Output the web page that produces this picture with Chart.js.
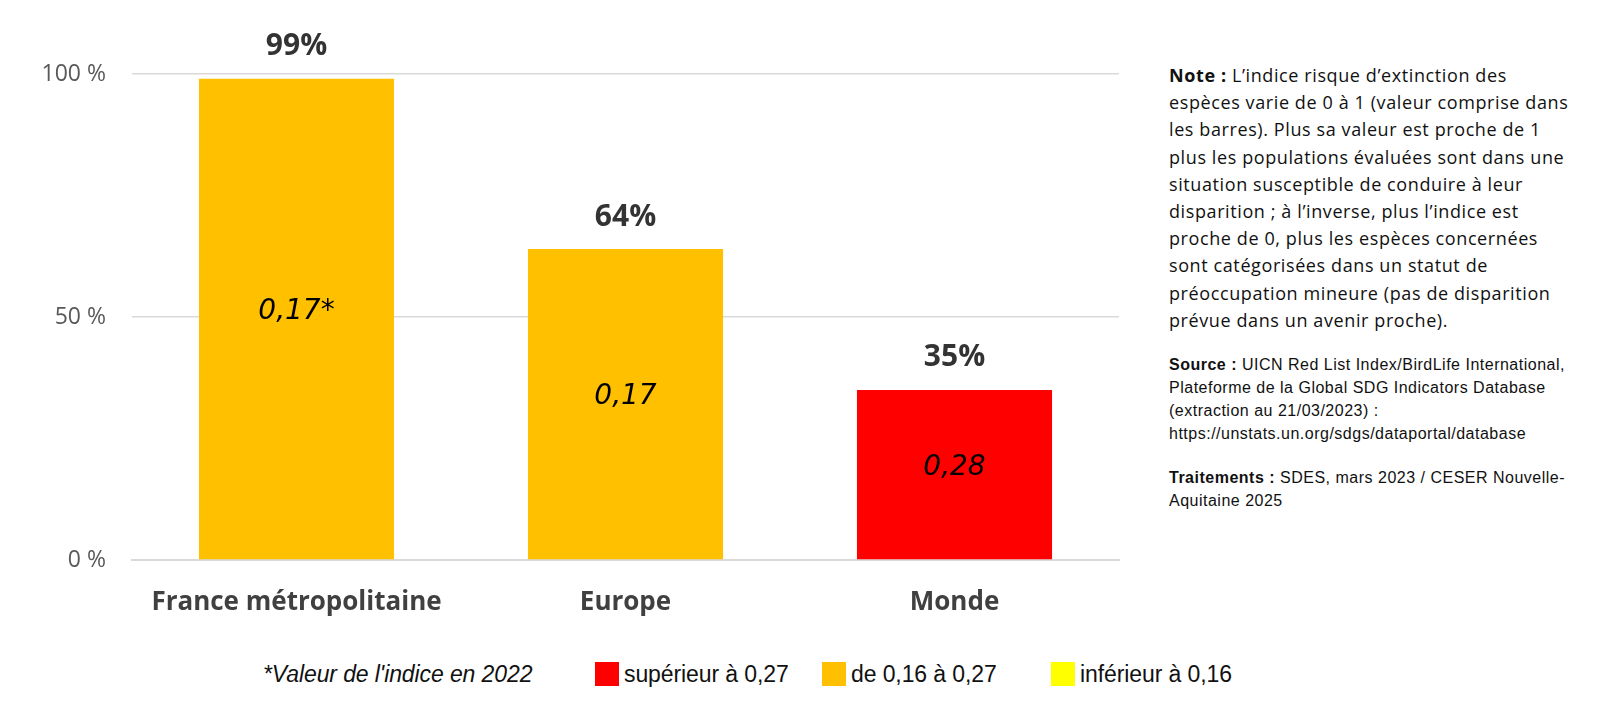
<!DOCTYPE html>
<html lang="fr">
<head>
<meta charset="utf-8">
<script src="https://cdn.jsdelivr.net/npm/chart.js@4.4.0/dist/chart.umd.min.js"></script>
<style>
  html, body { margin: 0; padding: 0; background: #fff; }
  body { width: 1600px; height: 717px; position: relative; overflow: hidden; }
  #chartBox { position: absolute; left: 0; top: 0; width: 1130px; height: 640px; }
  #note {
    position: absolute; left: 1169px; top: 62px; white-space: nowrap;
    font-family: "Open Sans", "Noto Sans", sans-serif; font-size: 18px; letter-spacing: 0.6px;
    line-height: 27.2px; color: #111;
  }
  #source, #traitements {
    position: absolute; left: 1169px; white-space: nowrap;
    font-family: "Liberation Sans", sans-serif; font-size: 16px; letter-spacing: 0.5px;
    line-height: 23px; color: #111;
  }
  #source { top: 353px; }
  #traitements { top: 466px; }
  #legend {
    position: absolute; left: 0; top: 661px; width: 1600px; height: 28px;
    font-family: "Liberation Sans", sans-serif; font-size: 23px; letter-spacing: -0.1px; color: #111;
  }
  #legend span { position: absolute; top: 0; line-height: 26px; white-space: nowrap; }
  #legend .sw { width: 24px; height: 24px; top: 1px; }
</style>
</head>
<body>
<div id="chartBox"><canvas id="chart"></canvas></div>

<div id="note"><b>Note :</b> L’indice risque d’extinction des<br>espèces varie de 0 à 1 (valeur comprise dans<br>les barres). Plus sa valeur est proche de 1<br>plus les populations évaluées sont dans une<br>situation susceptible de conduire à leur<br>disparition ; à l’inverse, plus l’indice est<br>proche de 0, plus les espèces concernées<br>sont catégorisées dans un statut de<br>préoccupation mineure (pas de disparition<br>prévue dans un avenir proche).</div>
<div id="source"><b>Source :</b> UICN Red List Index/BirdLife International,<br>Plateforme de la Global SDG Indicators Database<br>(extraction au 21/03/2023) :<br>https://unstats.un.org/sdgs/dataportal/database</div>
<div id="traitements"><b>Traitements :</b> SDES, mars 2023 / CESER Nouvelle-<br>Aquitaine 2025</div>

<div id="legend"></div>

<script>
// ── Data ────────────────────────────────────────────────────────
const categories  = ["France métropolitaine", "Europe", "Monde"];
const shares      = [99, 64, 35];                 // % of species evaluated
const indexLabels = ["0,17*", "0,17", "0,28"];     // risk index shown inside bars
const barColors   = ["#FFC000", "#FFC000", "#FF0000"];
const yTicks      = [0, 50, 100];

const legendNote  = "*Valeur de l'indice en 2022";
const legendItems = [
  { label: "supérieur à 0,27", color: "#FF0000" },
  { label: "de 0,16 à 0,27",   color: "#FFC000" },
  { label: "inférieur à 0,16", color: "#FFFF00" },
];

// ── Labels above / inside bars ──────────────────────────────────
const barLabels = {
  id: "barLabels",
  afterDatasetsDraw(chart) {
    const ctx = chart.ctx;
    const meta = chart.getDatasetMeta(0);
    ctx.save();
    ctx.textAlign = "center";
    ctx.textBaseline = "middle";
    meta.data.forEach((bar, i) => {
      ctx.fillStyle = "#333";
      ctx.font = "bold 30px 'Open Sans', sans-serif";
      ctx.fillText(shares[i] + "%", bar.x, bar.y - 32);

      ctx.fillStyle = "#000";
      ctx.font = "oblique 28px 'DejaVu Sans', sans-serif";
      const mid = (bar.y + bar.base) / 2 - 7;
      ctx.fillText(indexLabels[i], bar.x, mid);
    });
    ctx.restore();
  },
};

new Chart(document.getElementById("chart"), {
  type: "bar",
  data: {
    labels: categories,
    datasets: [{
      data: shares,
      backgroundColor: barColors,
      borderWidth: 0,
      categoryPercentage: 1,
      barPercentage: 0.593,
    }],
  },
  options: {
    responsive: true,
    maintainAspectRatio: false,
    animation: false,
    layout: { padding: { top: 74, right: 11, left: 0, bottom: 0 } },
    plugins: { legend: { display: false }, tooltip: { enabled: false } },
    scales: {
      x: {
        grid: { display: false, drawTicks: false },
        border: { color: "#d9d9d9", width: 2 },
        ticks: {
          color: "#404040",
          padding: 27,
          font: { family: "'Open Sans', sans-serif", size: 26, weight: "bold" },
        },
        afterFit: s => { s.height = 80; },
      },
      y: {
        min: 0, max: 100,
        afterBuildTicks: s => { s.ticks = yTicks.map(v => ({ value: v })); },
        grid: { color: "#d9d9d9", lineWidth: 1.5, drawTicks: false },
        border: { display: false },
        ticks: {
          color: "#595959",
          padding: 26,
          font: { family: "'Open Sans', sans-serif", size: 23 },
          callback: v => v + " %",
        },
        afterFit: s => { s.width = 132; },
      },
    },
  },
  plugins: [barLabels],
});

// ── Bottom legend ───────────────────────────────────────────────
const lg = document.getElementById("legend");
const notePos = 263, swPos = [595, 822, 1051];
lg.innerHTML = `<span style="left:${notePos}px;font-style:italic">${legendNote}</span>` +
  legendItems.map((it, i) =>
    `<span class="sw" style="left:${swPos[i]}px;background:${it.color}"></span>` +
    `<span style="left:${swPos[i] + 29}px">${it.label}</span>`).join("");
</script>
</body>
</html>
